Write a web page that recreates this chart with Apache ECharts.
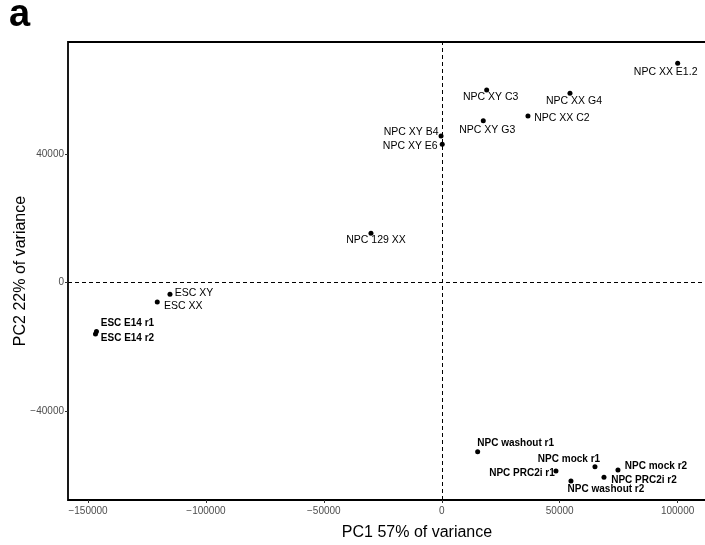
<!DOCTYPE html>
<html>
<head>
<meta charset="utf-8">
<script src="https://cdn.jsdelivr.net/npm/echarts@6/dist/echarts.min.js"></script>
<style>
html,body{margin:0;padding:0;background:#fff;}
#chart{width:705px;height:545px;}
</style>
</head>
<body>
<div id="chart"></div>
<script>
// ---- data ----
const sampleNames = [
  'NPC XX E1.2','NPC XY C3','NPC XX G4','NPC XX C2','NPC XY G3','NPC XY B4','NPC XY E6',
  'NPC 129 XX','ESC XY','ESC XX','ESC E14 r1','ESC E14 r2',
  'NPC washout r1','NPC mock r1','NPC mock r2','NPC PRC2i r1','NPC PRC2i r2','NPC washout r2'
];
const pc1 = [100040, 19040, 54370, 36550, 17600, -300, 200,
  -30020, -115260, -120650, -146430, -146850,
  15220, 64970, 74720, 48430, 68790, 54790];
const pc2 = [68230, 59920, 58900, 51830, 50370, 45600, 43020,
  15320, -3670, -6070, -15250, -16030,
  -52670, -57340, -58370, -58680, -60640, -61790];
const boldSamples = ['ESC E14 r1','ESC E14 r2','NPC washout r1','NPC mock r1','NPC mock r2',
  'NPC PRC2i r1','NPC PRC2i r2','NPC washout r2'];
const xTickStep = 50000;
const yTickStep = 40000;
const xTitle = 'PC1 57% of variance';
const yTitle = 'PC2 22% of variance';
const panelLetter = 'a';

// ---- label placement (pixel offsets from each point, styling only) ----
const labelOffsets = {
  'NPC XX E1.2': [-12, 9], 'NPC XY C3': [4, 7], 'NPC XX G4': [4, 8], 'NPC XX C2': [34, 2],
  'NPC XY G3': [4, 9], 'NPC XY B4': [-30, -4], 'NPC XY E6': [-32, 2], 'NPC 129 XX': [5, 7],
  'ESC XY': [24, -1], 'ESC XX': [26, 4], 'ESC E14 r1': [31, -8], 'ESC E14 r2': [32, 4],
  'NPC washout r1': [38, -8], 'NPC mock r1': [-26, -7], 'NPC mock r2': [38, -4],
  'NPC PRC2i r1': [-34, 2], 'NPC PRC2i r2': [40, 3], 'NPC washout r2': [35, 8]
};

const FONT = '"Liberation Sans", Arial, Helvetica, sans-serif';
const SYM = 5;
const fmt = (step) => (v) => (Math.abs(v % step) < 1e-6 ? String(v).replace('-', '\u2212') : '');

const points = sampleNames.map((n, i) => {
  const bold = boldSamples.indexOf(n) >= 0;
  const off = labelOffsets[n];
  return {
    name: n,
    value: [pc1[i], pc2[i]],
    label: {
      position: [SYM / 2 + off[0], SYM / 2 + off[1]],
      align: 'center', verticalAlign: 'middle',
      fontWeight: bold ? 'bold' : 'normal',
      fontSize: bold ? 10 : 10.5
    }
  };
});

const chart = echarts.init(document.getElementById('chart'), null, {renderer: 'canvas'});
chart.setOption({
  animation: false,
  backgroundColor: '#fff',
  textStyle: {fontFamily: FONT},
  graphic: [{
    type: 'text', x: 9, y: 16,
    style: {text: panelLetter, fontSize: 38, fontWeight: 'bold', fontFamily: FONT, fill: '#000', align: 'left', verticalAlign: 'middle'}
  }, {
    type: 'text', x: 21, y: 271, rotation: Math.PI / 2,
    style: {text: yTitle, fontSize: 16, fontFamily: FONT, fill: '#000', align: 'center', verticalAlign: 'middle'}
  }],
  grid: {left: 68, top: 42, bottom: 45, right: -61, outerBoundsMode: 'none', containLabel: false,
    show: true, borderColor: '#000', borderWidth: 1.8, backgroundColor: 'transparent'},
  xAxis: {
    type: 'value', min: -158500, max: 137500,
    minInterval: xTickStep, maxInterval: xTickStep,
    name: xTitle, nameLocation: 'middle', nameGap: 25,
    nameTextStyle: {fontSize: 16, color: '#000', fontFamily: FONT},
    axisLine: {show: false, onZero: false},
    axisTick: {show: true, length: 3, lineStyle: {color: '#333'}},
    axisLabel: {fontSize: 10, color: '#4d4d4d', margin: 6, formatter: fmt(xTickStep), showMinLabel: false, showMaxLabel: false},
    splitLine: {show: false}
  },
  yAxis: {
    type: 'value', min: -67700, max: 74860,
    minInterval: yTickStep, maxInterval: yTickStep,
    axisLine: {show: false, onZero: false},
    axisTick: {show: true, length: 3, lineStyle: {color: '#333'}},
    axisLabel: {fontSize: 10, color: '#4d4d4d', margin: 4, formatter: fmt(yTickStep), showMinLabel: false, showMaxLabel: false},
    splitLine: {show: false}
  },
  series: [{
    type: 'scatter',
    symbolSize: SYM,
    itemStyle: {color: '#000', opacity: 1},
    data: points,
    label: {
      show: true, formatter: '{b}',
      color: '#000', fontFamily: FONT
    },
    labelLayout: {hideOverlap: false},
    markLine: {
      silent: true, symbol: ['none', 'none'], label: {show: false},
      lineStyle: {color: '#000', type: [4, 3], width: 1, opacity: 1},
      data: [{xAxis: 0}, {yAxis: 0}]
    },
    z: 3
  }]
});
</script>
</body>
</html>
